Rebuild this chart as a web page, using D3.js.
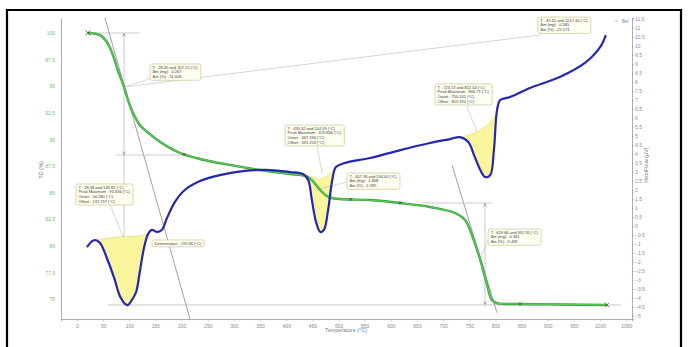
<!DOCTYPE html>
<html>
<head>
<meta charset="utf-8">
<script src="https://cdn.jsdelivr.net/npm/d3@7"></script>
<style>
  body { margin: 0; background: #fff; }
  svg { display: block; font-family: "Liberation Sans", Arial, sans-serif; }
</style>
</head>
<body>
<svg id="chart" width="688" height="347"></svg>
<script>
// Thermogravimetric curve (mass %, left axis)
const tgTemp  = [21, 44, 57, 69, 78, 90, 97.5, 107, 120, 134, 159, 197, 235, 292, 350, 407, 436, 449, 465, 480, 503, 560, 618, 675, 723, 742, 755, 771, 784, 793, 803, 847, 923, 1013];
const tgValue = [100, 99.8, 99.15, 97.9, 96.5, 94.9, 93.7, 92.5, 91.35, 90.7, 89.76, 88.72, 88.16, 87.6, 87.12, 86.75, 86.56, 86.18, 85.24, 84.6, 84.4, 84.3, 84.02, 83.65, 83.08, 82.42, 81.0, 78.67, 76.32, 74.91, 74.62, 74.53, 74.48, 74.44];

// Heat flow curve (µV, right axis)
const hfTemp  = [19, 27, 34, 44, 57, 71, 82, 92, 97.5, 105, 113, 120, 128, 136, 143, 153, 162, 172, 187, 206, 235, 273, 321, 369, 407, 432, 442, 449, 457, 465, 472, 480, 488, 495, 512, 560, 618, 675, 713, 732, 748, 759, 771, 780, 790, 797, 803, 809, 828, 866, 923, 971, 1000, 1011];
const hfValue = [-1.17, -0.89, -0.78, -0.94, -1.78, -2.89, -3.89, -4.33, -4.39, -4.11, -3.67, -2.56, -1.22, -0.44, -0.22, -0.33, -0.22, 0.44, 1.33, 2.0, 2.5, 2.83, 3.06, 3.11, 3.0, 2.89, 2.56, 1.44, 0.22, -0.33, -0.22, 0.89, 2.56, 3.28, 3.5, 3.78, 4.22, 4.61, 4.83, 4.94, 4.67, 3.94, 3.11, 2.72, 2.83, 4.22, 6.44, 7.0, 7.17, 7.67, 8.28, 9.06, 9.94, 10.61];

// Integration baselines of the three endothermic peaks (temperature, heat flow)
const peak1Base = [[19, -1.17], [27, -0.89], [44, -0.74], [78, -0.61], [111, -0.56], [136, -0.44]];
const peak2Base = [[432, 2.89], [449, 2.72], [465, 2.61], [478, 2.78], [495, 3.28]];
const peak3Base = [[713, 4.83], [742, 5.0], [771, 5.33], [790, 5.78], [803, 6.33], [809, 7.0]];

// Axis ticks
const xTicks  = d3.range(0, 1051, 50);
const tgTicks = d3.range(75, 100.01, 2.5);
const hfTicks = d3.range(-5, 11.51, 0.5);

// Annotation boxes: [temperature, mass % of top-left corner, text lines]
const callouts = [
  [139.6, 97.09, ["T : 28.30 and 207.15 (°C)", "Δm (mg): -0.267", "Δm (%): -11.606"]],
  [-1.9, 85.81, ["T : 28.38 and 148.82 (°C)", "Peak Maximum : 95.636 (°C)", "Onset : 56.280 (°C)", "Offset : 137.797 (°C)"]],
  [143.4, 80.55, ["Deterioration : 190.36 (°C)"]],
  [397.7, 91.35, ["T : 435.32 and 514.59 (°C)", "Peak Maximum : 470.806 (°C)", "Onset : 467.196 (°C)", "Offset : 491.253 (°C)"]],
  [516, 86.84, ["T : 407.36 and 534.00 (°C)", "Δm (mg): -1.808", "Δm (%): -2.339"]],
  [684.5, 95.21, ["T : 723.72 and 822.54 (°C)", "Peak Maximum : 806.71 (°C)", "Onset : 750.105 (°C)", "Offset : 813.195 (°C)"]],
  [786, 81.58, ["T : 619.66 and 992.35 (°C)", "Δm (mg): -0.361", "Δm (%): -9.439"]],
  [881, 101.5, ["T : 49.32 and 1017.40 (°C)", "Δm (mg): -0.585", "Δm (%): -25.571"]]
];

// Leader lines and construction lines, in (temperature, mass %)
const leaders = [
  [[143.4, 95.77], [90, 94.92]],
  [[90, 94.92], [885, 99.81]],
  [[63, 83.93], [88, 80.83]],
  [[459, 89.29], [468.5, 86.84]],
  [[516, 86.0], [464.6, 85.34]],
  [[745.7, 93.05], [764.8, 90.7]],
  [[786, 80.55], [768.6, 78.48]]
];
const guideLines = [
  [[21, 100], [120, 100]],
  [[76, 88.53], [216, 88.53]],
  [[59, 74.44], [1040, 74.44]],
  [[660, 84.02], [792, 84.02]],
  [[90, 100], [90, 80.8]],
  [[780, 84.02], [780, 74.44]]
];
const tangents = [
  [[53.5, 101.41], [216, 73.12]],
  [[717, 87.6], [803, 73.7]]
];
const arrowHeads = [[90, 100, -1], [90, 88.53, 1], [780, 84.02, -1], [780, 74.44, 1]];
const tgMarkers = [[205, 88.6], [523, 84.37], [618, 84.02], [847, 74.53]];

const svg = d3.select("#chart");
const x = d3.scaleLinear().domain([-30.6, 1061]).range([61, 632]);
const yTG = d3.scaleLinear().domain([73.12, 101.41]).range([319, 18]);
const yHF = d3.scaleLinear().domain([-5.17, 11.56]).range([319, 18]);

// Outer frame
svg.append("path").attr("d", "M7,350V10H681V350").attr("fill", "none").attr("stroke", "#000").attr("stroke-width", 2.2);

// Axes
const axisCol = "#9a9a9a";
const gx = svg.append("g").attr("transform", `translate(0,${yTG.range()[0]})`)
  .call(d3.axisBottom(x).tickValues(xTicks).tickSize(2).tickPadding(3).tickFormat(d3.format("d")));
svg.append("g").attr("transform", `translate(0,${yTG.range()[0]})`)
  .call(d3.axisBottom(x).tickValues(d3.range(-30, 1061, 10)).tickSize(1.2).tickFormat(""))
  .call(g => g.select(".domain").remove());
const gl = svg.append("g").attr("transform", `translate(${x.range()[0]},0)`)
  .call(d3.axisLeft(yTG).tickValues(tgTicks).tickSize(0).tickPadding(6).tickFormat(d => d3.format("~g")(d)));
const gr = svg.append("g").attr("transform", `translate(${x.range()[1]},0)`)
  .call(d3.axisRight(yHF).tickValues(hfTicks).tickSize(2).tickPadding(1).tickFormat(d => d3.format("~g")(d)));

[gx, gl, gr].forEach(g => {
  g.select(".domain").attr("stroke", axisCol).attr("stroke-width", 0.8);
  g.selectAll(".tick line").attr("stroke", axisCol).attr("stroke-width", 0.6);
  g.selectAll("text").attr("font-size", 5).attr("fill", "#8a8a8a");
});
gl.selectAll("text").attr("fill", "#74bd74");
gr.selectAll("text").attr("fill", "#8c8ca8");
svg.selectAll("g").filter(function () { return !this.querySelector(".domain"); }).selectAll("line").attr("stroke", axisCol).attr("stroke-width", 0.5);

svg.append("text").attr("x", 346).attr("y", 332).attr("text-anchor", "middle")
  .attr("font-size", 5.5).attr("fill", "#7a7a7a").text("Temperature (°C)");
svg.append("text").attr("transform", "translate(43,170) rotate(-90)").attr("text-anchor", "middle")
  .attr("font-size", 5.5).attr("fill", "#7a7a7a").text("TG (%)");
svg.append("text").attr("transform", "translate(648,165) rotate(-90)").attr("text-anchor", "middle")
  .attr("font-size", 5.5).attr("fill", "#7a7a7a").text("HeatFlow (µV)");
svg.append("text").attr("x", 615).attr("y", 24).attr("font-size", 5).attr("fill", "#999").text("^");
svg.append("text").attr("x", 622).attr("y", 23).attr("font-size", 4.5).attr("fill", "#888").text("Bel");

// Peak areas
const hfPts = hfTemp.map((t, i) => [t, hfValue[i]]);
const hfLine = d3.line().x(d => x(d[0])).y(d => yHF(d[1])).curve(d3.curveCatmullRom.alpha(0.5));
function peakArea(base) {
  const t0 = base[0][0], t1 = base[base.length - 1][0];
  const seg = hfPts.filter(p => p[0] >= t0 && p[0] <= t1);
  const d1 = hfLine(seg);
  const d2 = hfLine(base.slice().reverse()).replace(/^M/, "L");
  return d1 + d2 + "Z";
}
[peak1Base, peak2Base, peak3Base].forEach(b => {
  svg.append("path").attr("d", peakArea(b)).attr("fill", "#f9f59c").attr("stroke", "#d8d27a").attr("stroke-width", 0.5);
});

// Construction lines
const tgLine = d3.line().x(d => x(d[0])).y(d => yTG(d[1]));
guideLines.forEach(l => svg.append("path").attr("d", tgLine(l)).attr("stroke", "#b4b4b4").attr("stroke-width", 0.7).attr("fill", "none"));
tangents.forEach(l => svg.append("path").attr("d", tgLine(l)).attr("stroke", "#8c8c8c").attr("stroke-width", 0.8).attr("fill", "none"));
leaders.forEach(l => svg.append("path").attr("d", tgLine(l)).attr("stroke", "#c4c4c4").attr("stroke-width", 0.7).attr("fill", "none"));
arrowHeads.forEach(([t, v, dir]) => {
  const px = x(t), py = yTG(v) - dir * 0.5;
  svg.append("path").attr("d", `M${px - 1.5},${py - dir * 3}L${px},${py}L${px + 1.5},${py - dir * 3}`)
    .attr("fill", "none").attr("stroke", "#888").attr("stroke-width", 0.7);
});

// Curves
const tgPts = tgTemp.map((t, i) => [t, tgValue[i]]);
svg.append("path").attr("d", d3.line().x(d => x(d[0])).y(d => yTG(d[1])).curve(d3.curveCatmullRom.alpha(0.5))(tgPts))
  .attr("fill", "none").attr("stroke", "#2f9a2f").attr("stroke-width", 2.4);
svg.append("path").attr("d", d3.line().x(d => x(d[0])).y(d => yTG(d[1])).curve(d3.curveCatmullRom.alpha(0.5))(tgPts))
  .attr("fill", "none").attr("stroke", "#5cc85c").attr("stroke-width", 1.3);
svg.append("path").attr("d", hfLine(hfPts)).attr("fill", "none").attr("stroke", "#2626b0").attr("stroke-width", 2.2);

// Cross markers on the mass curve
const cross = (t, v, s) => {
  const px = x(t), py = yTG(v);
  svg.append("path").attr("d", `M${px - s},${py - s}L${px + s},${py + s}M${px - s},${py + s}L${px + s},${py - s}`)
    .attr("stroke", "#333").attr("stroke-width", 0.7);
};
cross(tgTemp[0], tgValue[0], 2.5);
cross(tgTemp[tgTemp.length - 1], tgValue[tgValue.length - 1], 2.2);
tgMarkers.forEach(([t, v]) => cross(t, v, 1.4));

// Annotation boxes
callouts.forEach(([t, v, lines]) => {
  const g = svg.append("g").attr("transform", `translate(${x(t)},${yTG(v)})`);
  const fs = 4, lh = 4.7;
  const tmp = g.append("g");
  lines.forEach((s, i) => tmp.append("text").attr("x", 2.5).attr("y", 4.6 + i * lh).attr("font-size", fs).attr("fill", "#3a3a3a").text(s));
  const w = tmp.node().getBBox().width + 5;
  g.insert("rect", "g").attr("width", w).attr("height", lines.length * lh + 2.2).attr("rx", 2)
    .attr("fill", "#fffff0").attr("stroke", "#c9c497").attr("stroke-width", 0.7);
});
</script>
</body>
</html>
